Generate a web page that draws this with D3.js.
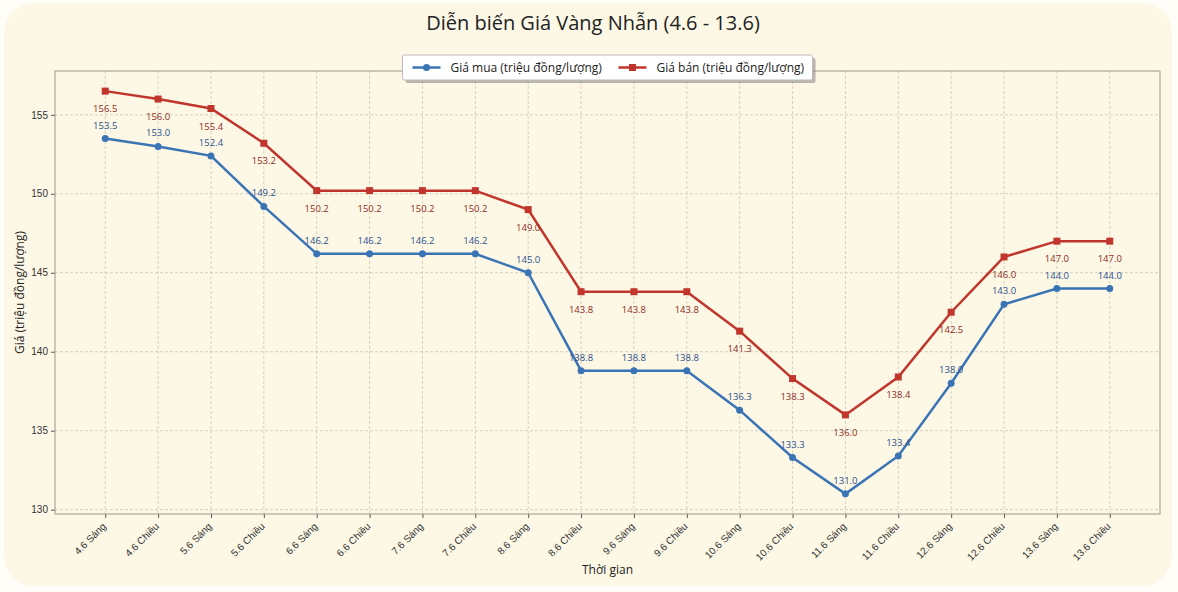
<!DOCTYPE html>
<html>
<head>
<meta charset="utf-8">
<script src="https://cdn.jsdelivr.net/npm/d3@7"></script>
<style>
    body { margin: 0; background: #fefdf8; }
    svg { font-family: "Open Sans", "Noto Sans", sans-serif; }
</style>
</head>
<body>
<div class="vis-chart"></div>
<script>
// dữ liệu
const categories = ["4.6 Sáng", "4.6 Chiều", "5.6 Sáng", "5.6 Chiều", "6.6 Sáng", "6.6 Chiều",
    "7.6 Sáng", "7.6 Chiều", "8.6 Sáng", "8.6 Chiều", "9.6 Sáng", "9.6 Chiều",
    "10.6 Sáng", "10.6 Chiều", "11.6 Sáng", "11.6 Chiều", "12.6 Sáng", "12.6 Chiều",
    "13.6 Sáng", "13.6 Chiều"];
const buyValues = [153.5, 153.0, 152.4, 149.2, 146.2, 146.2, 146.2, 146.2, 145.0, 138.8,
    138.8, 138.8, 136.3, 133.3, 131.0, 133.4, 138.0, 143.0, 144.0, 144.0];
const sellValues = [156.5, 156.0, 155.4, 153.2, 150.2, 150.2, 150.2, 150.2, 149.0, 143.8,
    143.8, 143.8, 141.3, 138.3, 136.0, 138.4, 142.5, 146.0, 147.0, 147.0];
const yTicks = [130, 135, 140, 145, 150, 155];
const seriesNames = ["Giá mua (triệu đồng/lượng)", "Giá bán (triệu đồng/lượng)"];

const W = 1178, H = 592;
const margin = { top: 71, right: 18, bottom: 78, left: 55 };
const width = W - margin.left - margin.right;
const height = H - margin.top - margin.bottom;

const blue = "#3a74b4", red = "#c0362c";
const blueText = "#2c4f8c", redText = "#8e2a22";

const svgRoot = d3.select(".vis-chart").append("svg")
    .attr("width", W).attr("height", H);

// nền thẻ bo góc
svgRoot.append("rect")
    .attr("x", 4).attr("y", 3).attr("width", W - 10).attr("height", H - 9)
    .attr("rx", 30).attr("fill", "#fdf8e6");

svgRoot.append("text")
    .attr("x", W / 2 + 4).attr("y", 30)
    .attr("text-anchor", "middle")
    .attr("font-size", 20).attr("fill", "#222")
    .text("Diễn biến Giá Vàng Nhẫn (4.6 - 13.6)");

const svg = svgRoot.append("g")
    .attr("transform", "translate(" + margin.left + "," + margin.top + ")");

// lề 5% kiểu matplotlib
const n = categories.length;
const x = d3.scaleLinear().domain([-0.95, n - 1 + 0.95]).range([0, width]);
const lo = d3.min(buyValues), hi = d3.max(sellValues);
const pad = (hi - lo) * 0.05;
const y = d3.scaleLinear().domain([lo - pad, hi + pad]).range([height, 0]);

// lưới
const grid = svg.append("g");
grid.selectAll(".gx").data(d3.range(n)).enter().append("line")
    .attr("x1", d => x(d)).attr("x2", d => x(d))
    .attr("y1", 0).attr("y2", height)
    .attr("stroke", "#c9c6b8").attr("stroke-dasharray", "3,2").attr("stroke-width", 0.8);
grid.selectAll(".gy").data(yTicks).enter().append("line")
    .attr("x1", 0).attr("x2", width)
    .attr("y1", d => y(d)).attr("y2", d => y(d))
    .attr("stroke", "#c9c6b8").attr("stroke-dasharray", "3,2").attr("stroke-width", 0.8);

// trục
const xAxis = svg.append("g")
    .attr("transform", "translate(0," + height + ")")
    .call(d3.axisBottom(x).tickValues(d3.range(n)).tickFormat(i => categories[i]).tickSizeOuter(0).tickSize(4));
xAxis.selectAll("text")
    .attr("font-size", 10).attr("fill", "#333")
    .attr("text-anchor", "end")
    .attr("x", 0).attr("y", 0)
    .attr("dx", 0).attr("dy", 0)
    .attr("transform", "translate(1,13) rotate(-45)");

const yAxis = svg.append("g")
    .call(d3.axisLeft(y).tickValues(yTicks).tickSizeOuter(0).tickSize(4));
yAxis.selectAll("text").attr("font-size", 10).attr("fill", "#333");

svg.selectAll(".domain").remove();
svg.selectAll(".tick line").attr("stroke", "#555");
svg.append("rect")
    .attr("width", width).attr("height", height)
    .attr("fill", "none").attr("stroke", "#9a978a").attr("stroke-width", 1);

// đường
const line = d3.line().x((d, i) => x(i)).y(d => y(d));

svg.append("path").datum(buyValues)
    .attr("fill", "none").attr("stroke", blue).attr("stroke-width", 2.5).attr("d", line);
svg.append("path").datum(sellValues)
    .attr("fill", "none").attr("stroke", red).attr("stroke-width", 2.5).attr("d", line);

svg.selectAll(".dot").data(buyValues).enter().append("circle")
    .attr("cx", (d, i) => x(i)).attr("cy", d => y(d)).attr("r", 3.5).attr("fill", blue);
svg.selectAll(".sq").data(sellValues).enter().append("rect")
    .attr("x", (d, i) => x(i) - 3.5).attr("y", d => y(d) - 3.5)
    .attr("width", 7).attr("height", 7).attr("fill", red);

// nhãn giá trị
svg.selectAll(".lb").data(buyValues).enter().append("text")
    .attr("x", (d, i) => x(i)).attr("y", d => y(d) - 10)
    .attr("text-anchor", "middle").attr("font-size", 9.5).attr("fill", blueText)
    .text(d => d.toFixed(1));
svg.selectAll(".ls").data(sellValues).enter().append("text")
    .attr("x", (d, i) => x(i)).attr("y", d => y(d) + 21)
    .attr("text-anchor", "middle").attr("font-size", 9.5).attr("fill", redText)
    .text(d => d.toFixed(1));

// tên trục
svgRoot.append("text")
    .attr("x", margin.left + width / 2).attr("y", 574)
    .attr("text-anchor", "middle").attr("font-size", 12).attr("fill", "#222")
    .text("Thời gian");
svgRoot.append("text")
    .attr("transform", "translate(24," + (margin.top + height / 2) + ") rotate(-90)")
    .attr("text-anchor", "middle").attr("font-size", 12).attr("fill", "#222")
    .text("Giá (triệu đồng/lượng)");

// chú giải
const lgW = 410, lgH = 25;
const lg = svgRoot.append("g")
    .attr("transform", "translate(" + (margin.left + width / 2 - lgW / 2) + ",55)");
lg.append("rect").attr("x", 3).attr("y", 3).attr("width", lgW).attr("height", lgH)
    .attr("rx", 2).attr("fill", "#8a8a8a").attr("opacity", 0.6);
lg.append("rect").attr("width", lgW).attr("height", lgH)
    .attr("rx", 2).attr("fill", "#fff").attr("stroke", "#bbb");
const items = [{ name: seriesNames[0], color: blue, sym: "circle", x: 10 },
    { name: seriesNames[1], color: red, sym: "square", x: 216 }];
items.forEach(it => {
    const g = lg.append("g").attr("transform", "translate(" + it.x + "," + (lgH / 2) + ")");
    g.append("line").attr("x1", 0).attr("x2", 28).attr("stroke", it.color).attr("stroke-width", 2.5);
    if (it.sym === "circle") g.append("circle").attr("cx", 14).attr("r", 3.5).attr("fill", it.color);
    else g.append("rect").attr("x", 10.5).attr("y", -3.5).attr("width", 7).attr("height", 7).attr("fill", it.color);
    g.append("text").attr("x", 38).attr("y", 4).attr("font-size", 12).attr("fill", "#222").text(it.name);
});
</script>
</body>
</html>
